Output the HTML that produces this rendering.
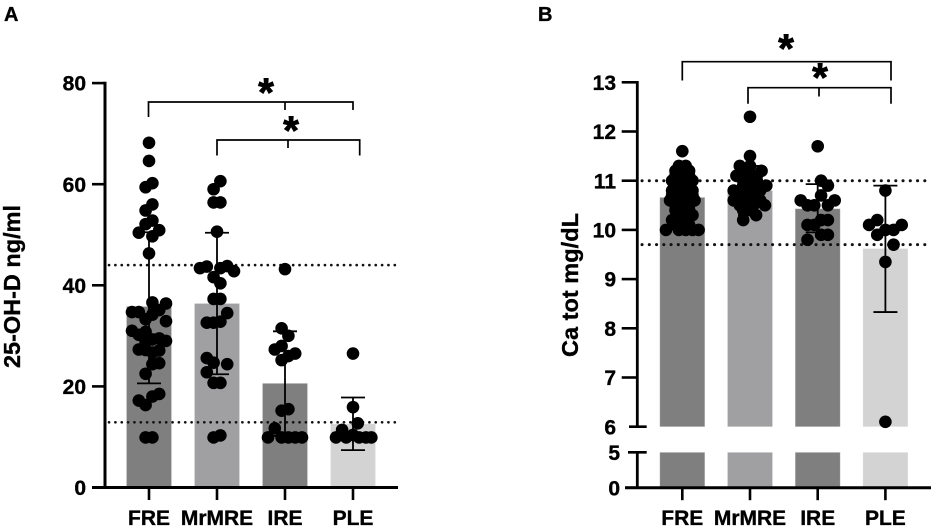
<!DOCTYPE html>
<html lang="en">
<head>
<meta charset="utf-8">
<title>25-OH-D and total calcium by group</title>
<style>
html,body{margin:0;padding:0;background:#fff;width:935px;height:529px;overflow:hidden}
svg{display:block;font-family:"Liberation Sans",Arial,sans-serif;font-weight:700;fill:#000}
text{stroke:#000;stroke-width:.35px}
</style>
</head>
<body>
<svg id="figure" width="935" height="529" viewBox="0 0 935 529" xmlns="http://www.w3.org/2000/svg">
  <rect width="935" height="529" fill="#fff"/>
  <text x="4" y="21" font-size="20">A</text>
  <text x="538" y="21" font-size="20">B</text>
  <text transform="translate(20,368) rotate(-90)" font-size="23.5" textLength="163" lengthAdjust="spacingAndGlyphs">25-OH-D ng/ml</text>
  <text transform="translate(578,357) rotate(-90)" font-size="23.5" textLength="144" lengthAdjust="spacingAndGlyphs">Ca tot mg/dL</text>
  <g id="panelA"></g>
  <g id="panelB"></g>
  <g fill="none" stroke="#000" stroke-width="1.7">
    <path d="M148.5 117V102H353V110M285 102V110"/>
    <path d="M217 155.5V140H359.7V155.5M288 140V148"/>
  </g>
  <g fill="none" stroke="#000" stroke-width="1.7">
    <path d="M682.3 80.5V61.7H891V80.5"/>
    <path d="M748 103.7V87.7H891V103.7M819 87.7V96.5"/>
  </g>
  <g font-size="40" text-anchor="middle" style="stroke-width:.9px">
    <text x="266" y="106" style="stroke-width:.9px">*</text>
    <text x="291" y="144" style="stroke-width:.9px">*</text>
    <text x="786" y="62" style="stroke-width:.9px">*</text>
    <text x="820" y="91" style="stroke-width:.9px">*</text>
  </g>
</svg>
<script>
const categories = ["FRE", "MrMRE", "IRE", "PLE"];
const barColors = ["#7f7f7f", "#a0a0a3", "#7f7f7f", "#d3d3d3"];

const ticksA = [0, 20, 40, 60, 80];
const referenceA = [44, 12.9];
const meansA = [35.8, 36.4, 20.6, 12.6];
const errLowA = [20.6, 22.4, 10.2, 7.4];
const errHighA = [50.5, 50.4, 30.9, 17.8];

const freValuesA = [68.2,64.6,60.2,59.4,56,54.8,52.8,52.1,50.9,50.4,49.7,46.3,36.6,36.4,35.1,34.7,34.7,34.2,33.3,32.9,31,30.8,30.2,29.5,29.3,29,28.8,27.3,27.2,27.1,26.7,24.6,24.4,22.5,18.5,18,17.2,16.3,9.9,9.9];
const freSlotsA = [0,0,.5,-.5,.5,-.5,.5,-.5,1.5,-1.5,.5,0,.5,2.5,1.5,-2.5,-1.5,.5,-.5,2.5,-2.5,-.5,-1.5,1.5,.5,2.5,-.5,-1.5,-.5,1.5,.5,1.5,.5,-.5,1.5,.5,-1.5,-.5,-.5,.5];
const mrmreValuesA = [60.6,59,56.4,56.4,50.6,43.4,43.7,43.4,43.8,42.8,41.6,40.4,37.3,37.3,34.5,32.6,32.6,32.8,25.6,24.7,24.4,22.8,20.7,20.7,9.9,10.3];
const mrmreSlotsA = [.5,-.5,-.5,.5,0,-2.5,-1.5,.5,1.5,2.5,-.5,.5,-.5,.5,1.5,-1.5,-.5,.5,-1.5,-.5,1.5,-1.5,-.5,.5,-.5,.5];
const ireValuesA = [43.2,31.5,30,28,27.3,26.5,26,25.2,15.5,15.2,11.7,9.9,9.9,9.9,9.9,9.9];
const ireSlotsA = [0,-.5,.5,-.5,-1.5,1.5,.5,-.5,.5,-.5,-1.5,-2.5,-.5,.5,1.5,2.5];
const pleValuesA = [26.5,15.9,12.7,11.4,9.9,9.9,10.4,9.9,9.9,9.9];
const pleSlotsA = [0,0,.7,-1.6,-2.5,-1,0,.9,1.9,2.7];

const ticksUpperB = [6, 7, 8, 9, 10, 11, 12, 13];
const ticksLowerB = [0, 5];
const referenceB = [11, 9.7];
const meansB = [10.66, 10.8, 10.43, 9.62];
const errLowB = [10.15, 10.3, 9.95, 8.33];
const errHighB = [11.15, 11.3, 10.93, 10.9];

const freValuesB = [11.6,11.3,11.3,11.2,11.2,11.2,11.1,11.1,11.1,11,11,11,11,10.9,10.9,10.9,10.8,10.8,10.8,10.8,10.7,10.7,10.7,10.7,10.6,10.6,10.6,10.6,10.6,10.5,10.5,10.5,10.4,10.4,10.4,10.3,10.3,10.3,10.2,10.2,10.2,10.1,10.1,10.1,10,10,10,10,10];
const freSlotsB = [0,-.5,.5,-1,0,1,-1,0,1,-1.5,-.5,.5,1.5,-1,0,1,-1.5,-.5,.5,1.5,-1.5,-.5,.5,1.5,-1.8,-1,0,1,1.8,-1,0,1,-1,0,1,-.5,.5,1.5,-1.5,-.5,.5,-1,0,1,-2.4,-.5,.5,1.5,2.4];
const mrmreValuesB = [12.3,11.5,11.3,11.3,11.2,11.2,11.1,11.1,11.1,11,11,11,10.9,10.9,10.9,10.8,10.8,10.8,10.7,10.7,10.6,10.6,10.6,10.6,10.5,10.5,10.5,10.4,10.4,10.3,10.2];
const mrmreSlotsB = [0,0,-1.5,0,-.5,1.7,-2,0,1,-1,0,1,-1,.5,2.4,-2.4,-.5,1.5,-1,1,-2.4,-.5,.5,1.5,-1.5,.5,2.2,-1,0,.9,-1];
const ireValuesB = [11.7,11,10.9,10.7,10.6,10.6,10.5,10.5,10.5,10.2,10.2,10.1,10.1,9.9,9.9,9.8];
const ireSlotsB = [0,.5,1.5,.5,-2.5,2.5,-1.5,-.5,1.5,1.5,.5,-.5,-1.5,1.5,.5,-1.5];
const pleValuesB = [10.8,10.2,10.1,10.1,10,10,9.9,9.7,9.35,6.1];
const pleSlotsB = [0,-1.2,-2.4,2.4,0,1.2,-1.2,1.2,0,0];

const seriesA = [[freValuesA, freSlotsA], [mrmreValuesA, mrmreSlotsA], [ireValuesA, ireSlotsA], [pleValuesA, pleSlotsA]];
const seriesB = [[freValuesB, freSlotsB], [mrmreValuesB, mrmreSlotsB], [ireValuesB, ireSlotsB], [pleValuesB, pleSlotsB]];

const SVGNS = "http://www.w3.org/2000/svg";
const SLOT = 6.8;
const xA = i => 149 + i * 68;
const yA = v => 487.5 - v * 5.055;
const xB = i => 682.3 + i * 67.7;
const yB = v => v >= 5.5 ? 426.7 - (v - 6) * 49.2 : 487.7 - v * 7.07;

function mk(parent, tag, props, text) {
  const el = document.createElementNS(SVGNS, tag);
  for (const k in props) el.setAttribute(k, props[k]);
  if (text !== undefined) el.textContent = text;
  parent.appendChild(el);
  return el;
}
function strokeLine(parent, x1, y1, x2, y2, w) {
  return mk(parent, "line", {x1, y1, x2, y2, stroke: "#000", "stroke-width": w});
}

function drawBar(g, x, top, bottom, i) {
  const r = mk(g, "rect", {x: x - 22.5, y: top, width: 45, height: bottom - top, fill: barColors[i], stroke: "#fff", "stroke-opacity": .18, "stroke-width": 1});
  
  
}
function drawError(g, x, low, high, y, i) {
  const e = mk(g, "path", {d: `M${x} ${y(low)}V${y(high)}M${x - 12} ${y(low)}H${x + 12}M${x - 12} ${y(high)}H${x + 12}`, fill: "none", stroke: "#000", "stroke-width": 1.8});
  
  
}
function drawDots(g, x, y, pair, i) {
  const values = pair[0], slots = pair[1];
  values.forEach((v, k) => {
    const c = mk(g, "circle", {cx: x + slots[k] * SLOT, cy: y(v), r: 6.3, fill: "#000"});
    
    
  });
}
function drawRef(g, x1, x2, yp, w, dash) {
  const l = mk(g, "line", {x1, x2, y1: yp, y2: yp, stroke: "#111", "stroke-width": w, "stroke-linecap": "round", "stroke-dasharray": dash});
  
  
}
function drawYTick(g, v, yp, x1, x2, right) {
  const t = strokeLine(g, x1, yp, x2, yp, 2.6);
  
  
  const lab = mk(g, "text", {x: right, y: yp + 7.6, "font-size": 21, "text-anchor": "end"}, String(v));
  
  
}
function drawXTick(g, i, x, y0) {
  const t = strokeLine(g, x, y0, x, y0 + 12.5, 2.6);
  
  
  const lab = mk(g, "text", {x, y: 525, "font-size": 21, "text-anchor": "middle"}, categories[i]);
  
  
}

/* Panel A */
const panelA = document.getElementById("panelA");
categories.forEach((c, i) => drawBar(panelA, xA(i), yA(meansA[i]), yA(0) - 1, i));
referenceA.forEach(v => drawRef(panelA, 109, 395, yA(v), 2.6, "0.1 6.25"));
categories.forEach((c, i) => drawError(panelA, xA(i), errLowA[i], errHighA[i], yA, i));
seriesA.forEach((p, i) => drawDots(panelA, xA(i), yA, p, i));
const axisYA = strokeLine(panelA, 105, yA(80) - 1.3, 105, yA(0), 3);


const axisXA = strokeLine(panelA, 92, yA(0), 398, yA(0), 3);


ticksA.forEach(v => drawYTick(panelA, v, yA(v), 92, 105, 86));
categories.forEach((c, i) => drawXTick(panelA, i, xA(i), yA(0)));

/* Panel B */
const panelB = document.getElementById("panelB");
categories.forEach((c, i) => {
  drawBar(panelB, xB(i), yB(meansB[i]), yB(6), i);
  drawBar(panelB, xB(i), yB(5), yB(0) - 1, i);
});
referenceB.forEach(v => drawRef(panelB, 642, 931, yB(v), 3, "0.1 7.15"));
categories.forEach((c, i) => drawError(panelB, xB(i), errLowB[i], errHighB[i], yB, i));
seriesB.forEach((p, i) => drawDots(panelB, xB(i), yB, p, i));
const axisYB1 = strokeLine(panelB, 637.3, yB(13) - 1.3, 637.3, yB(6), 2.8);


const axisYB2 = strokeLine(panelB, 637.3, yB(5), 637.3, yB(0), 2.8);


const axisXB = strokeLine(panelB, 625, yB(0), 931, yB(0), 3);


ticksUpperB.forEach(v => {
  if (v === 6) drawYTick(panelB, v, yB(v), 629, 646.7, 616);
  else drawYTick(panelB, v, yB(v), 621.7, 637.3, 616);
});
ticksLowerB.forEach(v => {
  if (v === 5) drawYTick(panelB, v, yB(v), 628, 646.7, 620);
  else drawYTick(panelB, v, yB(v), 625, 637.3, 620);
});
categories.forEach((c, i) => drawXTick(panelB, i, xB(i), yB(0)));
</script>
</body>
</html>
